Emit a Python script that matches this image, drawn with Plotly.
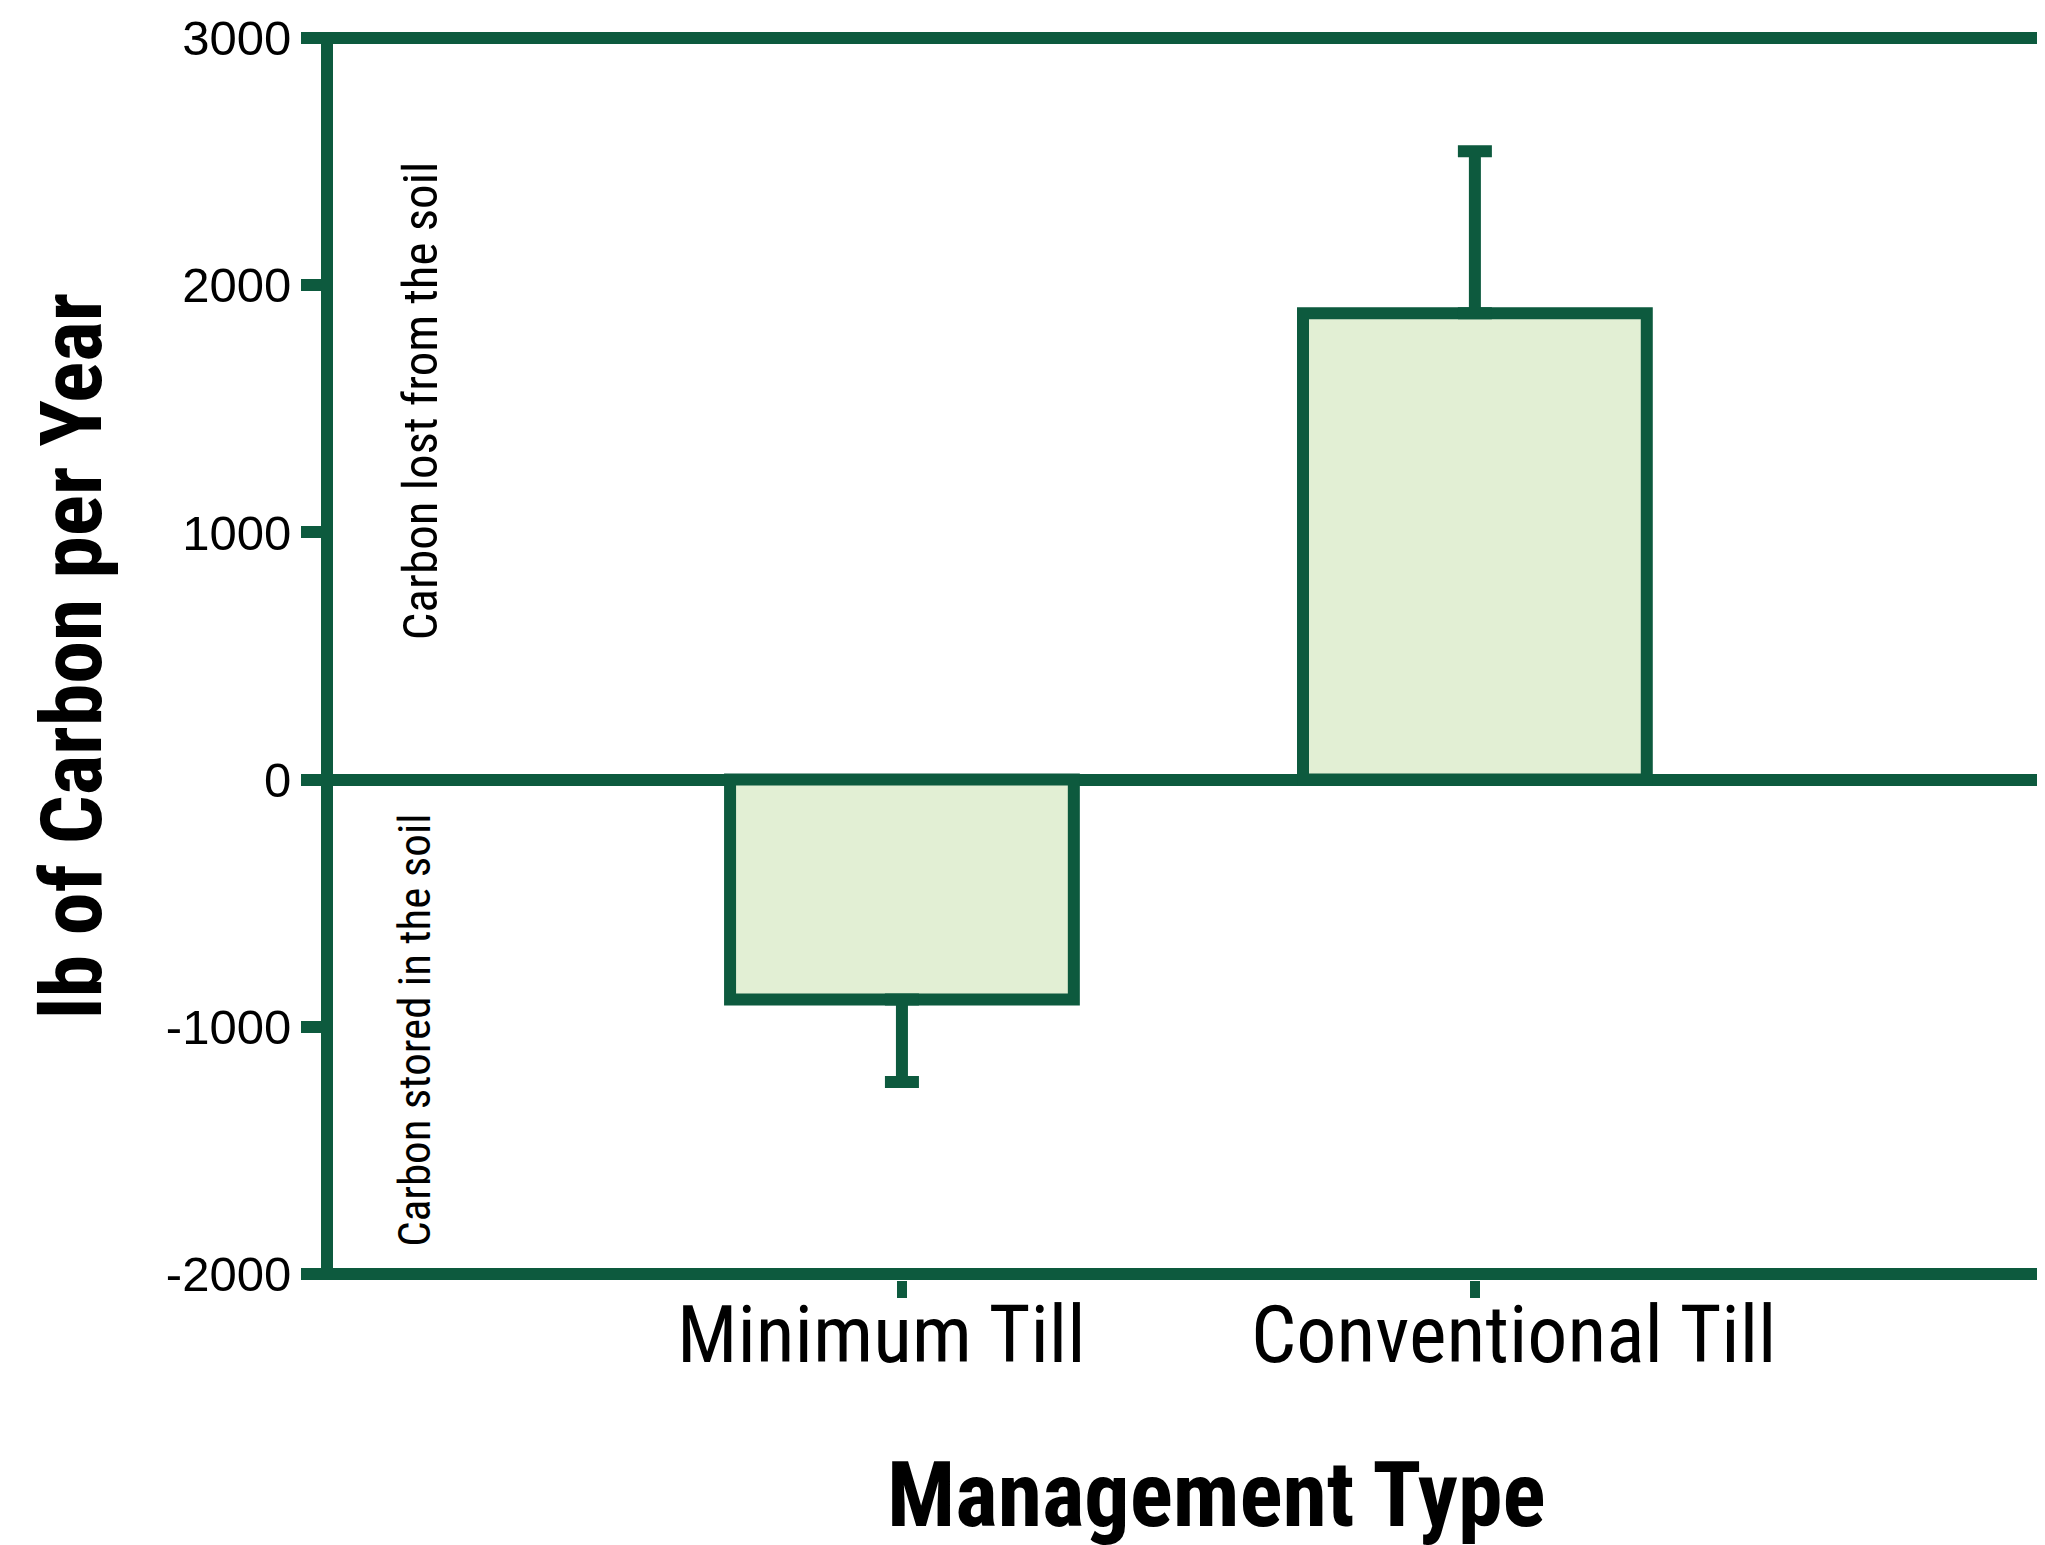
import plotly.graph_objects as go

categories = ["Minimum Till", "Conventional Till"]
values = [-890, 1887]
err_plus = [0, 655]
err_minus = [333, 0]
y_ticks = [-2000, -1000, 0, 1000, 2000, 3000]
y_tick_text = ["-2000", "-1000", "0", "1000", "2000", "3000"]
label_shift = [-20, 39]

GREEN = "#0d5a3e"
FILL = "#e2efd4"
NARROW = "Liberation Sans Narrow, Roboto Condensed, DejaVu Sans Condensed, Arial Narrow, sans-serif"
REG = "Liberation Sans, Arial, Helvetica, sans-serif"

fig = go.Figure()
fig.add_trace(go.Bar(
    x=categories, y=values, width=0.6,
    marker=dict(color=FILL, line=dict(color=GREEN, width=12)),
    error_y=dict(type="data", symmetric=False, array=err_plus, arrayminus=err_minus,
                 color=GREEN, thickness=12, width=17),
))

# top and bottom frame lines
for yv in (y_ticks[-1], y_ticks[0]):
    fig.add_shape(type="line", xref="paper", x0=0, x1=1.02, yref="y", y0=yv, y1=yv,
                  line=dict(color=GREEN, width=12), layer="above")

# category labels
for cat, sh in zip(categories, label_shift):
    fig.add_annotation(text=cat, xref="x", x=cat, xshift=sh, yref="paper", y=-0.044,
                       xanchor="center", yanchor="middle", showarrow=False,
                       font=dict(family=NARROW, size=80, color="black"))

fig.add_annotation(text="<b>Management Type</b>", xref="paper", x=0.5134, yref="paper", y=-0.173,
                   xanchor="center", yanchor="middle", showarrow=False,
                   font=dict(family=NARROW, size=90, color="black"))

fig.add_annotation(text="Carbon lost from the soil", xref="paper", x=0.0506, yref="y", y=1531,
                   xanchor="center", yanchor="middle",
                   textangle=-90, showarrow=False, font=dict(family=NARROW, size=49, color="black"))
fig.add_annotation(text="Carbon stored in the soil", xref="paper", x=0.047, yref="y", y=-1013,
                   xanchor="center", yanchor="middle",
                   textangle=-90, showarrow=False, font=dict(family=NARROW, size=45, color="black"))

fig.update_layout(
    width=2045, height=1545,
    margin=dict(l=325, r=0, t=24, b=273, autoexpand=False),
    paper_bgcolor="white", plot_bgcolor="white",
    showlegend=False,
    xaxis=dict(type="category", range=[-0.993, 2.009], showline=False, showgrid=False, zeroline=False,
               ticks="outside", ticklen=17, tickwidth=10, tickcolor=GREEN,
               showticklabels=False),
    yaxis=dict(range=[-2024.3, 3024.3], tickvals=y_ticks, ticktext=y_tick_text,
               showline=True, linewidth=12, linecolor=GREEN, showgrid=False,
               zeroline=True, zerolinewidth=12, zerolinecolor=GREEN,
               ticks="outside", ticklen=20, tickwidth=12, tickcolor=GREEN,
               tickfont=dict(family=REG, size=49, color="black"),
               title=dict(text="<b>lb of Carbon per Year</b>", font=dict(family=NARROW, size=86, color="black"),
                          standoff=41)),
)

fig.write_html("out.html")
